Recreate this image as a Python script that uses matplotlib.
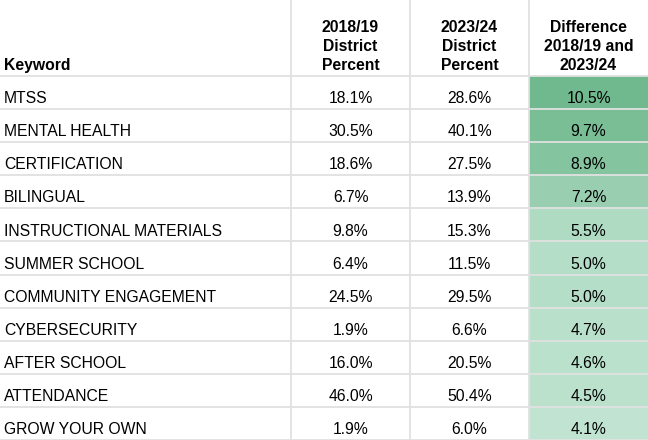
import matplotlib.pyplot as plt
from matplotlib.colors import LinearSegmentedColormap, Normalize
from matplotlib.patches import Rectangle

plt.rcParams['font.family'] = ['Liberation Sans', 'DejaVu Sans']

# Table data
headers = ["Keyword", "2018/19\nDistrict\nPercent", "2023/24\nDistrict\nPercent",
           "Difference\n2018/19 and\n2023/24"]
keywords = ["MTSS", "MENTAL HEALTH", "CERTIFICATION", "BILINGUAL",
            "INSTRUCTIONAL MATERIALS", "SUMMER SCHOOL", "COMMUNITY ENGAGEMENT",
            "CYBERSECURITY", "AFTER SCHOOL", "ATTENDANCE", "GROW YOUR OWN"]
pct_2018 = [18.1, 30.5, 18.6, 6.7, 9.8, 6.4, 24.5, 1.9, 16.0, 46.0, 1.9]
pct_2023 = [28.6, 40.1, 27.5, 13.9, 15.3, 11.5, 29.5, 6.6, 20.5, 50.4, 6.0]
difference = [10.5, 9.7, 8.9, 7.2, 5.5, 5.0, 5.0, 4.7, 4.6, 4.5, 4.1]

# layout in pixels
W, H = 648, 440
col_edges = [0, 291, 410, 529, 648]
header_h = 76
row_h = 33.1
grid = '#e1e1e1'

fig = plt.figure(figsize=(6.48, 4.40), dpi=100)
ax = fig.add_axes([0, 0, 1, 1])
ax.set_xlim(0, W)
ax.set_ylim(H, 0)
ax.axis('off')

cmap = LinearSegmentedColormap.from_list('diff', ['#c0e4d1', '#70b98e'])
norm = Normalize(vmin=min(difference), vmax=max(difference))

# coloured difference cells
for i, d in enumerate(difference):
    y0 = header_h + i * row_h
    ax.add_patch(Rectangle((col_edges[3], y0), col_edges[4] - col_edges[3], row_h,
                           facecolor=cmap(norm(d)), edgecolor='none', zorder=1))

# grid lines
for i in range(len(keywords) + 1):
    y = header_h + i * row_h
    ax.plot([0, W], [y, y], color=grid, lw=1.3, zorder=2)
for x in col_edges[1:4]:
    ax.plot([x, x], [0, H], color=grid, lw=1.3, zorder=2)

# header (bottom aligned like a spreadsheet)
fs = 11.3
ax.text(4, header_h - 6, headers[0], ha='left', va='baseline', fontsize=fs,
        fontweight='bold')
for j in range(1, 4):
    cx = (col_edges[j] + col_edges[j + 1]) / 2
    ax.text(cx, header_h - 6, headers[j], ha='center', va='baseline', fontsize=fs,
            fontweight='bold', linespacing=1.32, multialignment='center')

# body
for i, kw in enumerate(keywords):
    base = header_h + (i + 1) * row_h - 6
    ax.text(4, base, kw, ha='left', va='baseline', fontsize=fs, zorder=3)
    vals = [pct_2018[i], pct_2023[i], difference[i]]
    for j, v in enumerate(vals, start=1):
        cx = (col_edges[j] + col_edges[j + 1]) / 2
        ax.text(cx, base, f"{v:.1f}%", ha='center', va='baseline', fontsize=fs,
                zorder=3)

fig.savefig('out.png', dpi=100)
